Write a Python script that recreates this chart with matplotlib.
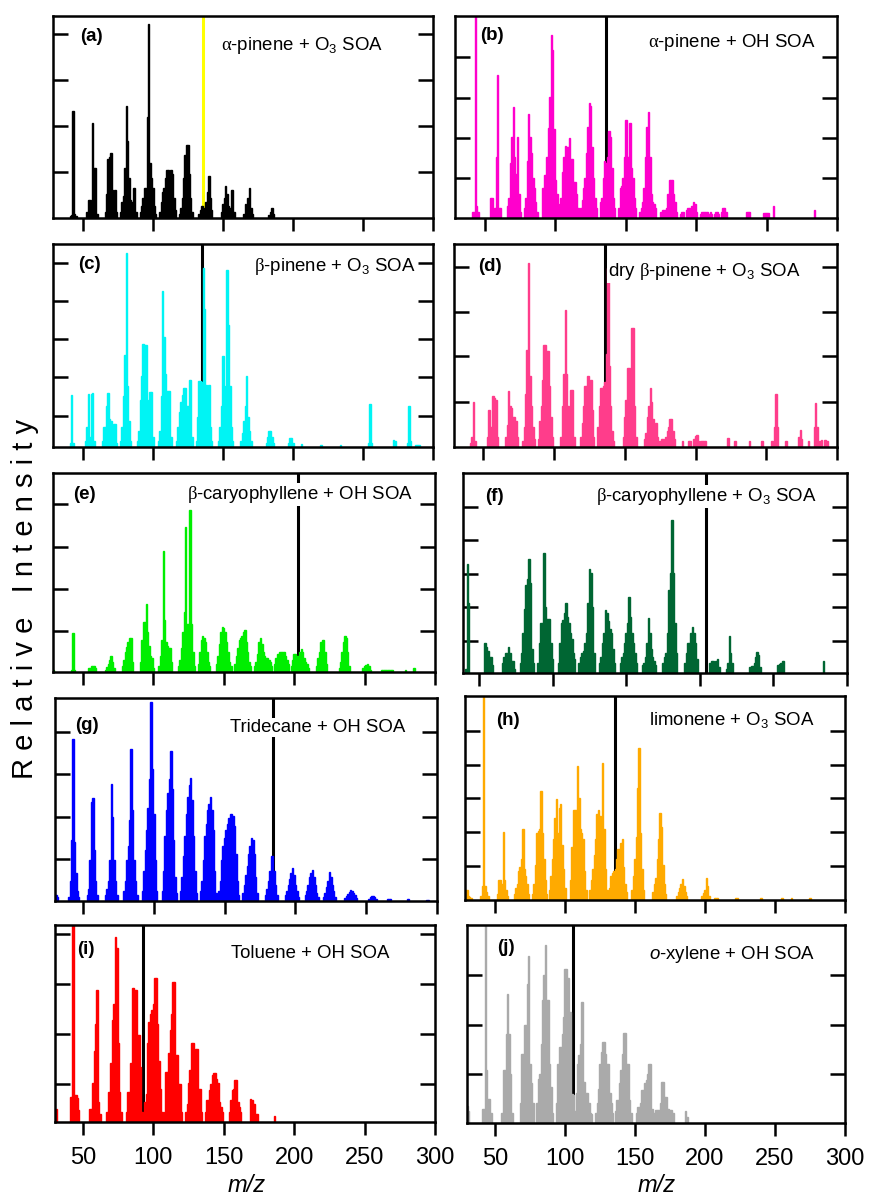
import matplotlib.pyplot as plt

plt.rcParams['font.family'] = ['Liberation Sans', 'DejaVu Sans']
plt.rcParams['mathtext.fontset'] = 'custom'
plt.rcParams['mathtext.rm'] = 'Liberation Sans'
plt.rcParams['mathtext.it'] = 'Liberation Sans:italic'
plt.rcParams['mathtext.sf'] = 'Liberation Serif'

# Spectra: (first m/z, [intensities at consecutive m/z]) ; intensity as fraction of panel height
peaks_a = [(41, [0.01, 0.015, 0.53, 0.02, 0.01]),
           (53, [0.03, 0.09, 0.09, 0.05, 0.47, 0.25, 0.25, 0.02]),
           (66, [0.03, 0.12, 0.29, 0.30, 0.32, 0.14, 0.12, 0.14, 0.03]),
           (77, [0.03, 0.08, 0.11, 0.25, 0.555, 0.38, 0.2, 0.09, 0.08, 0.15, 0.15, 0.03]),
           (91, [0.03, 0.06, 0.10, 0.15, 0.15, 0.5, 0.96, 0.27, 0.2, 0.15, 0.06, 0.02]),
           (105, [0.03, 0.08, 0.13, 0.15, 0.2, 0.24, 0.24, 0.1, 0.24, 0.22, 0.1, 0.04]),
           (119, [0.02, 0.05, 0.1, 0.2, 0.31, 0.36, 0.36, 0.22, 0.1, 0.03]),
           (133, [0.02, 0.04, 0.06, 0.03, 0.05, 0.08, 0.13, 0.206, 0.1, 0.04]),
           (149, [0.03, 0.07, 0.1, 0.157, 0.12, 0.06, 0.05, 0.14, 0.14, 0.03]),
           (165, [0.02, 0.07, 0.06, 0.1, 0.148, 0.05, 0.02]),
           (183, [0.015, 0.03, 0.05, 0.02])]

peaks_b = [(41, [0.03, 0.03, 1.05, 0.06, 0.03]),
           (54, [0.1, 0.1, 0.02, 0.05, 0.3, 0.71, 0.05, 0.05]),
           (66, [0.058, 0.1, 0.27, 0.4, 0.55, 0.3, 0.22, 0.4, 0.12, 0.03]),
           (78, [0.05, 0.1, 0.28, 0.516, 0.4, 0.32, 0.2, 0.15, 0.08, 0.03]),
           (91, [0.15, 0.214, 0.214, 0.3, 0.445, 0.6, 0.906, 0.83, 0.44, 0.19, 0.12, 0.07, 0.04]),
           (104, [0.1, 0.23, 0.3, 0.354, 0.35, 0.35, 0.395, 0.29, 0.29, 0.18, 0.18, 0.12, 0.05]),
           (118, [0.05, 0.09, 0.15, 0.2, 0.32, 0.45, 0.568, 0.552, 0.35, 0.2, 0.1, 0.05]),
           (132, [0.08, 0.1, 0.2, 0.28, 0.27, 0.3, 0.43, 0.4, 0.25, 0.1, 0.05]),
           (145, [0.05, 0.15, 0.16, 0.2, 0.3, 0.483, 0.3, 0.3, 0.47, 0.25, 0.2, 0.1, 0.05]),
           (160, [0.03, 0.05, 0.08, 0.15, 0.3, 0.45, 0.527, 0.3, 0.12, 0.08, 0.07, 0.05]),
           (175, [0.03, 0.04, 0.04, 0.04, 0.05, 0.12, 0.19, 0.19, 0.19, 0.12, 0.08, 0.03]),
           (189, [0.02, 0.03, 0.03, 0.0, 0.04, 0.05, 0.05, 0.04, 0.06, 0.08, 0.07, 0.03]),
           (203, [0.02, 0.03, 0.03, 0.03, 0.03, 0.03, 0.02, 0.03, 0.02, 0.0,
                  0.02, 0.03, 0.03, 0.02, 0.0, 0.03, 0.05, 0.05, 0.03]),
           (236, [0.03, 0.03, 0.03]),
           (248, [0.025, 0.025, 0.025, 0.025, 0.0, 0.0, 0.0, 0.06]),
           (284, [0.04])]

peaks_c = [(41, [0.02, 0.257, 0.02]),
           (52, [0.03, 0.1, 0.262, 0.05, 0.26, 0.266, 0.03]),
           (64, [0.03, 0.1, 0.1, 0.2, 0.266, 0.14, 0.13, 0.06, 0.115, 0.115, 0.02]),
           (77, [0.03, 0.1, 0.25, 0.454, 0.957, 0.3, 0.13, 0.03]),
           (89, [0.03, 0.08, 0.233, 0.35, 0.507, 0.5, 0.5, 0.23, 0.2, 0.27, 0.27, 0.05]),
           (104, [0.03, 0.08, 0.25, 0.77, 0.54, 0.36, 0.278, 0.278, 0.278, 0.05]),
           (117, [0.03, 0.1, 0.17, 0.22, 0.257, 0.29, 0.29, 0.2, 0.2, 0.328, 0.328, 0.05]),
           (131, [0.03, 0.15, 0.323, 0.323, 0.32, 0.88, 0.68, 0.307, 0.2, 0.307, 0.1, 0.03]),
           (147, [0.03, 0.1, 0.2, 0.446, 0.3, 0.2, 0.872, 0.6, 0.3, 0.1, 0.03]),
           (163, [0.03, 0.07, 0.13, 0.2, 0.348, 0.15, 0.08, 0.03]),
           (181, [0.02, 0.05, 0.08, 0.08, 0.05, 0.02]),
           (197, [0.02, 0.044, 0.044, 0.02]),
           (206, [0.015]), (220, [0.01]), (234, [0.01]),
           (254, [0.02, 0.21, 0.02]),
           (272, [0.036, 0.03]),
           (282, [0.02, 0.2, 0.03]),
           (288, [0.01, 0.01, 0.01])]

peaks_d = [(41, [0.02, 0.05, 0.22, 0.03]),
           (53, [0.05, 0.184, 0.1, 0.1, 0.25, 0.24, 0.233, 0.05]),
           (66, [0.05, 0.11, 0.277, 0.2, 0.19, 0.15, 0.15, 0.13, 0.05]),
           (78, [0.03, 0.1, 0.26, 0.48, 0.905, 0.35, 0.2, 0.1, 0.04]),
           (89, [0.04, 0.13, 0.2, 0.33, 0.5, 0.5, 0.474, 0.474, 0.3, 0.15, 0.05]),
           (105, [0.05, 0.2, 0.36, 0.675, 0.36, 0.2, 0.118, 0.28, 0.28, 0.05]),
           (119, [0.05, 0.12, 0.2, 0.3, 0.3, 0.348, 0.25, 0.33, 0.18, 0.05]),
           (131, [0.1, 0.2, 0.29, 0.29, 0.3, 0.32, 0.46, 0.88, 0.4, 0.2, 0.08, 0.03]),
           (149, [0.05, 0.15, 0.23, 0.39, 0.39, 0.3, 0.585, 0.585, 0.2, 0.05]),
           (164, [0.04, 0.07, 0.15, 0.2, 0.29, 0.22, 0.14, 0.1, 0.12, 0.05]),
           (175, [0.03, 0.04, 0.04, 0.03, 0.05, 0.08, 0.1, 0.14, 0.14, 0.08, 0.04]),
           (191, [0.03]), (195, [0.03, 0.03]), (199, [0.04, 0.055, 0.06, 0.03]),
           (204, [0.03, 0.03, 0.03, 0.03]),
           (223, [0.044]), (228, [0.03]), (238, [0.03]), (247, [0.03]), (254, [0.03]),
           (256, [0.1, 0.26, 0.1]),
           (264, [0.03]),
           (273, [0.05, 0.085, 0.04]),
           (280, [0.03]),
           (284, [0.1, 0.216, 0.1]),
           (288, [0.03, 0.036, 0.0, 0.036, 0.036, 0.03])]

peaks_e = [(29, [0.01]),
           (42, [0.01, 0.196, 0.01]),
           (54, [0.02, 0.02, 0.03, 0.03, 0.03, 0.02]),
           (66, [0.01, 0.025, 0.04, 0.06, 0.08, 0.05, 0.02]),
           (78, [0.03, 0.06, 0.1, 0.125, 0.15, 0.17, 0.17, 0.05]),
           (91, [0.05, 0.16, 0.25, 0.25, 0.343, 0.2, 0.13, 0.08, 0.07, 0.02]),
           (104, [0.03, 0.08, 0.16, 0.61, 0.26, 0.15, 0.13, 0.12, 0.12, 0.05]),
           (118, [0.03, 0.06, 0.12, 0.2, 0.3, 0.728, 0.24, 0.24, 0.812, 0.24, 0.1, 0.03]),
           (132, [0.04, 0.1, 0.16, 0.18, 0.17, 0.15, 0.1, 0.05, 0.03]),
           (145, [0.04, 0.08, 0.14, 0.2, 0.226, 0.22, 0.2, 0.15, 0.1, 0.05, 0.03]),
           (158, [0.04, 0.08, 0.12, 0.16, 0.17, 0.18, 0.2, 0.21, 0.15, 0.1, 0.05, 0.03]),
           (172, [0.03, 0.05, 0.09, 0.15, 0.17, 0.14, 0.1, 0.08, 0.07, 0.07, 0.06, 0.05, 0.03]),
           (186, [0.04, 0.07, 0.09, 0.09, 0.1, 0.1, 0.1, 0.1, 0.08, 0.06, 0.04]),
           (198, [0.03, 0.06, 0.09, 0.09, 0.08, 0.08, 0.1, 0.117, 0.1, 0.07, 0.05, 0.04, 0.02]),
           (216, [0.03, 0.07, 0.1, 0.15, 0.16, 0.16, 0.1, 0.04]),
           (232, [0.02, 0.05, 0.1, 0.15, 0.18, 0.17, 0.1, 0.03]),
           (249, [0.02, 0.03, 0.035, 0.04, 0.03, 0.01]),
           (262, [0.01, 0.01, 0.01, 0.01, 0.01, 0.01, 0.01, 0.01, 0.01]),
           (279, [0.012]), (285, [0.022])]

peaks_f = [(41, [0.02, 0.545, 0.35]),
           (54, [0.15, 0.13, 0.11, 0.08, 0.08, 0.04]),
           (66, [0.05, 0.08, 0.1, 0.1, 0.13, 0.1, 0.06, 0.06, 0.02]),
           (78, [0.05, 0.1, 0.2, 0.32, 0.44, 0.47, 0.568, 0.45, 0.12, 0.05]),
           (90, [0.05, 0.15, 0.25, 0.25, 0.6, 0.33, 0.27, 0.27, 0.27, 0.15, 0.07]),
           (104, [0.05, 0.15, 0.25, 0.266, 0.3, 0.35, 0.28, 0.25, 0.2, 0.17, 0.1, 0.07]),
           (118, [0.05, 0.08, 0.1, 0.11, 0.15, 0.2, 0.35, 0.518, 0.5, 0.33, 0.1]),
           (132, [0.05, 0.08, 0.15, 0.2, 0.316, 0.3, 0.26, 0.22, 0.2, 0.12, 0.05]),
           (146, [0.05, 0.08, 0.1, 0.15, 0.2, 0.25, 0.38, 0.28, 0.2, 0.15, 0.1, 0.05]),
           (161, [0.04, 0.05, 0.08, 0.15, 0.274, 0.2, 0.12, 0.08, 0.06, 0.04]),
           (175, [0.05, 0.08, 0.1, 0.2, 0.415, 0.5, 0.767, 0.5, 0.25, 0.1]),
           (190, [0.05, 0.1, 0.15, 0.15, 0.2, 0.232, 0.2, 0.15, 0.07]),
           (207, [0.05, 0.058, 0.058, 0.05, 0.06, 0.07, 0.03]),
           (218, [0.02, 0.05, 0.183, 0.1, 0.05]),
           (234, [0.03, 0.035, 0.035, 0.05, 0.08, 0.105, 0.09, 0.03]),
           (253, [0.04, 0.045, 0.05, 0.06, 0.06]),
           (284, [0.06])]

peaks_g = [(30, [0.036, 0.03, 0.02]),
           (40, [0.02, 0.1, 0.3, 0.8, 0.29, 0.14, 0.05, 0.02]),
           (53, [0.03, 0.06, 0.2, 0.49, 0.506, 0.25, 0.1, 0.03]),
           (66, [0.03, 0.06, 0.1, 0.2, 0.577, 0.415, 0.2, 0.1, 0.03]),
           (79, [0.05, 0.1, 0.2, 0.27, 0.4, 0.748, 0.45, 0.2, 0.1, 0.03]),
           (92, [0.05, 0.15, 0.25, 0.35, 0.46, 0.6, 0.98, 0.65, 0.43, 0.2, 0.05]),
           (106, [0.05, 0.15, 0.32, 0.45, 0.53, 0.6, 0.74, 0.55, 0.3, 0.12, 0.04]),
           (119, [0.05, 0.12, 0.22, 0.32, 0.43, 0.51, 0.57, 0.605, 0.5, 0.32, 0.15, 0.04]),
           (133, [0.05, 0.1, 0.2, 0.32, 0.38, 0.45, 0.48, 0.514, 0.45, 0.35, 0.15, 0.04]),
           (146, [0.05, 0.1, 0.2, 0.27, 0.31, 0.35, 0.38, 0.41, 0.43, 0.43, 0.42, 0.37, 0.23, 0.1, 0.03]),
           (163, [0.04, 0.08, 0.13, 0.17, 0.23, 0.27, 0.308, 0.3, 0.23, 0.12, 0.04]),
           (179, [0.03, 0.06, 0.1, 0.15, 0.22, 0.22, 0.15, 0.08, 0.03]),
           (193, [0.03, 0.05, 0.08, 0.11, 0.14, 0.165, 0.13, 0.08, 0.05, 0.02]),
           (207, [0.03, 0.05, 0.08, 0.12, 0.14, 0.155, 0.12, 0.08, 0.04, 0.02]),
           (220, [0.02, 0.04, 0.07, 0.1, 0.143, 0.12, 0.08, 0.05, 0.02]),
           (235, [0.015, 0.025, 0.035, 0.045, 0.056, 0.05, 0.04, 0.03, 0.015]),
           (252, [0.01, 0.02, 0.023, 0.023, 0.02, 0.01]),
           (265, [0.008, 0.008, 0.008]), (279, [0.008, 0.008]), (293, [0.006, 0.006])]

peaks_h = [(29, [0.05, 0.05, 0.02, 0.015, 0.01]),
           (40, [0.02, 0.07, 0.995, 0.07, 0.04, 0.02]),
           (52, [0.03, 0.1, 0.1, 0.08, 0.332, 0.1, 0.05, 0.02]),
           (64, [0.03, 0.06, 0.08, 0.14, 0.16, 0.2, 0.346, 0.15, 0.12, 0.08, 0.03]),
           (77, [0.03, 0.08, 0.17, 0.33, 0.34, 0.35, 0.536, 0.33, 0.2, 0.1, 0.03]),
           (89, [0.05, 0.12, 0.2, 0.3, 0.4, 0.493, 0.33, 0.45, 0.47, 0.27, 0.15, 0.06]),
           (104, [0.1, 0.26, 0.44, 0.44, 0.44, 0.657, 0.5, 0.35, 0.33, 0.3, 0.14, 0.05]),
           (118, [0.05, 0.1, 0.15, 0.22, 0.3, 0.42, 0.44, 0.41, 0.4, 0.673, 0.35, 0.15, 0.05]),
           (132, [0.06, 0.12, 0.13, 0.14, 0.15, 0.2, 0.25, 0.25, 0.28, 0.3, 0.16, 0.08, 0.04]),
           (148, [0.05, 0.12, 0.2, 0.31, 0.55, 0.743, 0.33, 0.15, 0.05]),
           (163, [0.04, 0.08, 0.11, 0.2, 0.3, 0.425, 0.36, 0.17, 0.08, 0.03]),
           (180, [0.02, 0.04, 0.06, 0.08, 0.103, 0.07, 0.04, 0.02]),
           (198, [0.02, 0.035, 0.05, 0.11, 0.07, 0.02]),
           (207, [0.01, 0.01, 0.008]), (222, [0.01, 0.008]), (240, [0.01]),
           (255, [0.008]), (262, [0.01]), (275, [0.008])]

peaks_i = [(30, [0.03, 0.068]),
           (41, [0.127, 0.127, 1.05, 0.136, 0.136, 0.12, 0.06]),
           (55, [0.068, 0.068, 0.2, 0.36, 0.5, 0.67, 0.1, 0.04]),
           (67, [0.05, 0.153, 0.153, 0.3, 0.517, 0.6, 0.94, 0.885, 0.4, 0.153, 0.05]),
           (81, [0.05, 0.153, 0.153, 0.3, 0.678, 0.678, 0.67, 0.67, 0.44, 0.44, 0.28, 0.05]),
           (94, [0.1, 0.144, 0.4, 0.508, 0.55, 0.568, 0.6, 0.73, 0.73, 0.5, 0.31, 0.17, 0.05]),
           (108, [0.05, 0.254, 0.254, 0.35, 0.466, 0.55, 0.712, 0.712, 0.34, 0.34, 0.195, 0.195, 0.05]),
           (123, [0.05, 0.093, 0.2, 0.263, 0.4, 0.4, 0.3, 0.373, 0.373, 0.17, 0.17, 0.05]),
           (137, [0.05, 0.11, 0.11, 0.16, 0.195, 0.24, 0.25, 0.25, 0.22, 0.2, 0.1, 0.076, 0.05]),
           (154, [0.05, 0.11, 0.16, 0.17, 0.212, 0.212, 0.1, 0.076, 0.05]),
           (169, [0.119, 0.11, 0.093, 0.093, 0.04, 0.04]),
           (186, [0.03])]

peaks_j = [(30, [0.084, 0.06]),
           (41, [0.07, 0.07, 1.02, 0.27, 0.12, 0.123, 0.05]),
           (55, [0.05, 0.27, 0.27, 0.45, 0.654, 0.45, 0.25, 0.05]),
           (68, [0.1, 0.35, 0.35, 0.494, 0.494, 0.7, 0.843, 0.3, 0.2, 0.1]),
           (80, [0.1, 0.22, 0.25, 0.4, 0.62, 0.75, 0.9, 0.62, 0.62, 0.3, 0.18, 0.05]),
           (94, [0.1, 0.3, 0.384, 0.384, 0.45, 0.536, 0.78, 0.78, 0.73, 0.56, 0.56, 0.148, 0.14]),
           (107, [0.06, 0.15, 0.3, 0.342, 0.4, 0.612, 0.207, 0.207, 0.15, 0.15, 0.1, 0.05, 0.047]),
           (122, [0.05, 0.1, 0.174, 0.3, 0.36, 0.41, 0.41, 0.35, 0.3, 0.3, 0.15, 0.1, 0.05]),
           (136, [0.06, 0.115, 0.115, 0.2, 0.266, 0.35, 0.455, 0.455, 0.3, 0.3, 0.115, 0.05]),
           (151, [0.05, 0.08, 0.08, 0.1, 0.165, 0.165, 0.2, 0.216, 0.25, 0.3, 0.3, 0.07, 0.05]),
           (164, [0.05, 0.067, 0.067, 0.067, 0.1, 0.207, 0.207, 0.13, 0.13, 0.07, 0.07, 0.067, 0.067, 0.05]),
           (186, [0.06, 0.03])]

panel_ids = ['(a)', '(b)', '(c)', '(d)', '(e)', '(f)', '(g)', '(h)', '(i)', '(j)']
titles = [r'$\mathsf{\alpha}$-pinene + O$_3$ SOA',
          r'$\mathsf{\alpha}$-pinene + OH SOA',
          r'$\mathsf{\beta}$-pinene + O$_3$ SOA',
          r'dry $\mathsf{\beta}$-pinene + O$_3$ SOA',
          r'$\mathsf{\beta}$-caryophyllene + OH SOA',
          r'$\mathsf{\beta}$-caryophyllene + O$_3$ SOA',
          'Tridecane + OH SOA',
          r'limonene + O$_3$ SOA',
          'Toluene + OH SOA',
          r'$\mathit{o}$-xylene + OH SOA']
# precursor m/z marked by the vertical line
precursor_mz = [135.5, 136, 135, 136, 203, 204.5, 184, 136, 92.5, 106]
colors = ['#000000', '#ff00cc', '#00f4f4', '#ff3d8b', '#00ee00',
          '#006633', '#0000ff', '#ffaa00', '#ff0000', '#aaaaaa']
line_colors = ['#ffff00'] + ['#000000'] * 9
all_peaks = [peaks_a, peaks_b, peaks_c, peaks_d, peaks_e,
             peaks_f, peaks_g, peaks_h, peaks_i, peaks_j]

# layout (pixels: left, top, right, bottom) as pasted in the original figure
W, H = 869, 1196
boxes = [(53, 16, 433, 218), (455, 16, 837, 218),
         (53, 244, 433, 447), (454, 244, 837, 447),
         (53, 473, 435, 672), (463, 473, 847, 673),
         (55, 698, 437, 901), (465, 696, 845, 900),
         (55, 925, 435, 1122), (467, 925, 845, 1123)]
xmins = [28.6, 28.6, 28.6, 29.3, 28.7, 39.1, 30.2, 28.6, 30.1, 30.0]
yticks = [[0.228, 0.453, 0.681, 0.911],
          [0.197, 0.398, 0.596, 0.796],
          [0.154, 0.343, 0.532, 0.721, 0.908],
          [0.221, 0.446, 0.667, 0.889],
          [0.206, 0.419, 0.628, 0.843],
          [0.161, 0.329, 0.497, 0.664, 0.830],
          [0.206, 0.415, 0.624, 0.834],
          [0.167, 0.333, 0.500, 0.663, 0.830],
          [0.195, 0.447, 0.700, 0.953],
          [0.246, 0.494, 0.747]]
id_pos = [(80, 41), (480, 40), (78, 269), (478, 271), (73, 499),
          (485, 501), (75, 730), (496, 725), (77, 954), (497, 952)]
title_pos = [(383, 50), (816, 47), (416, 271), (801, 276), (413, 499),
             (817, 501), (405, 732), (815, 725), (389, 958), (815, 959)]


def spectrum(clusters):
    mz, inten = [], []
    for start, vals in clusters:
        for k, v in enumerate(vals):
            mz.append(start + k)
            inten.append(v)
    return mz, inten


fig = plt.figure(figsize=(W / 100, H / 100), dpi=100)

for n in range(10):
    l, t, r, b = boxes[n]
    ax = fig.add_axes([l / W, 1 - b / H, (r - l) / W, (b - t) / H])
    mz, inten = spectrum(all_peaks[n])
    ax.axvline(precursor_mz[n], color=line_colors[n], lw=2.2, zorder=1)
    ax.bar(mz, inten, width=1.0, color=colors[n], edgecolor=colors[n],
           linewidth=1.0, zorder=2)
    ax.set_xlim(xmins[n], 300)
    ax.set_ylim(0, 1)
    ax.set_xticks([50, 100, 150, 200, 250, 300])
    ax.set_yticks(yticks[n])
    for s in ax.spines.values():
        s.set_linewidth(1.8)
        s.set_zorder(3)
    ax.tick_params(axis='y', direction='in', length=10.5, width=1.8,
                   left=True, right=True, labelleft=False)
    ax.tick_params(axis='x', direction='out', length=9, width=1.8,
                   top=False, labelsize=17, pad=9, labelbottom=(n >= 8))

    fig.text(id_pos[n][0] / W, 1 - id_pos[n][1] / H, panel_ids[n],
             fontsize=13.5, fontweight='bold', ha='left', va='baseline')
    fig.text(title_pos[n][0] / W, 1 - title_pos[n][1] / H, titles[n],
             fontsize=13.4, ha='right', va='baseline', zorder=5,
             bbox=dict(facecolor='white', edgecolor='none', pad=0.5))

fig.text(25 / W, 1 - 599 / H, 'R e l a t i v e   I n t e n s i t y',
         rotation=90, fontsize=21, ha='center', va='center')
fig.text(247 / W, 1 - 1186 / H, 'm/z', style='italic', fontsize=17,
         ha='center', va='center')
fig.text(657 / W, 1 - 1186 / H, 'm/z', style='italic', fontsize=17,
         ha='center', va='center')

fig.savefig('out.png', dpi=100)
